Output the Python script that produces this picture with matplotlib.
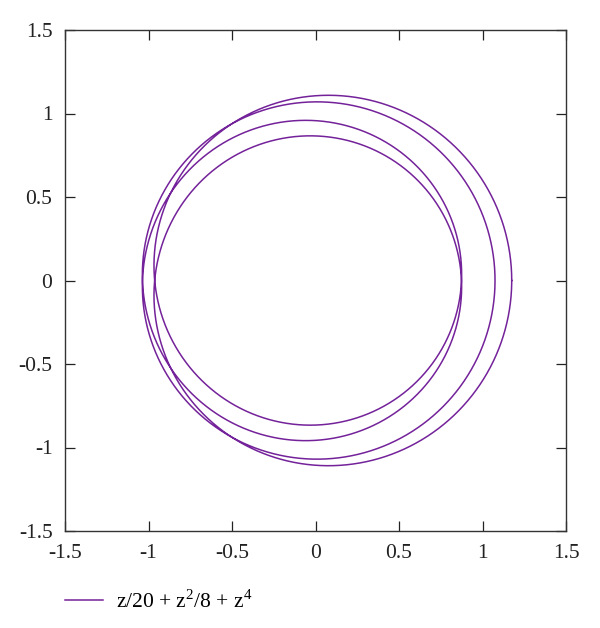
import numpy as np
import matplotlib
matplotlib.use("Agg")
import matplotlib.pyplot as plt

# polynomial: z/20 + z^2/8 + z^4
powers = [1, 2, 4]
coeffs = [1 / 20, 1 / 8, 1.0]
legend_label = r"z/20 + z$^2$/8 + z$^4$"

ticks = [-1.5, -1, -0.5, 0, 0.5, 1, 1.5]
tick_labels = ["-1.5", "-1", "-0.5", "0", "0.5", "1", "1.5"]

# image of the unit circle
t = np.linspace(0, 2 * np.pi, 2000)
z = np.exp(1j * t)
w = sum(c * z ** p for c, p in zip(coeffs, powers))

plt.rcParams["font.family"] = ["Liberation Serif", "DejaVu Serif"]
plt.rcParams["mathtext.fontset"] = "custom"
plt.rcParams["mathtext.rm"] = "Liberation Serif"

fig = plt.figure(figsize=(6.0, 6.28), dpi=100)
ax = fig.add_axes([65 / 600, 1 - 531 / 628, 501 / 600, 501 / 628])
line, = ax.plot(w.real, w.imag, color="#74229a", lw=1.1)

ax.set_xlim(-1.5, 1.5)
ax.set_ylim(-1.5, 1.5)
ax.set_xticks(ticks, tick_labels)
ax.set_yticks(ticks, tick_labels)
ax.tick_params(direction="in", length=7, width=0.9, top=True, right=True,
               labelsize=15.5, colors="#222222")
ax.tick_params(axis="x", pad=9)
ax.tick_params(axis="y", pad=9)
for s in ax.spines.values():
    s.set_linewidth(1.0)
    s.set_color("#333333")

fig.legend([line], [legend_label], loc="center left",
           bbox_to_anchor=(65 / 600, 1 - 601 / 628), frameon=False,
           fontsize=15.5, handlelength=1.75, handletextpad=0.62,
           borderpad=0, borderaxespad=0)

fig.savefig("out.png", dpi=100)
